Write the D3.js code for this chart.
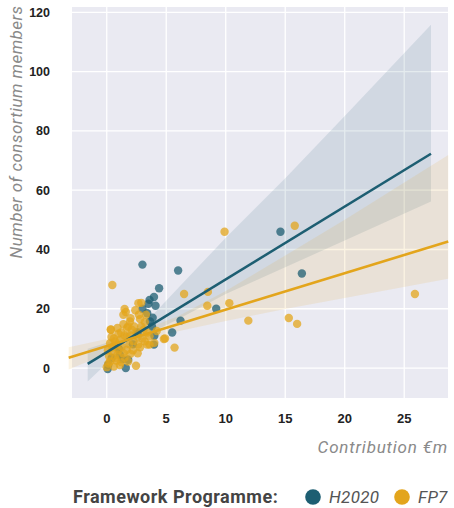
<html>
  <head>
    <meta charset="utf-8">
    <style>
      body { margin: 0; background: #fff; }
      .tick-x { font-family: "Liberation Sans", Arial, sans-serif; font-weight: bold; font-size: 13px; fill: #222; }
      .tick-y { font-family: "Liberation Sans", Arial, sans-serif; font-weight: bold; font-size: 12.5px; fill: #222; }
      .axis-title { font-family: Roboto, "Open Sans", sans-serif; font-style: italic; font-size: 17px; fill: #8a8a8a; letter-spacing: 0.8px; }
      .y-title { letter-spacing: 0.45px; }
      .legend-title { font-family: Roboto, sans-serif; font-weight: bold; font-size: 18px; fill: #444; letter-spacing: 0.5px; }
      .legend-item { font-family: Roboto, sans-serif; font-style: italic; font-size: 17px; fill: #555; letter-spacing: 0.3px; }
    </style>
    <script src="https://d3js.org/d3.v7.min.js"></script>
  </head>
  <body>
    <svg id="chart" width="454" height="508"></svg>
    <script>
      // tick labels
      var xTicks = [0, 5, 10, 15, 20, 25]
      var yTicks = [0, 20, 40, 60, 80, 100, 120]

      // H2020 projects: [contribution €m, consortium members]
      var h2020Points = [
        [14.6, 46], [16.4, 31.9], [6.0, 32.9], [3.0, 34.9], [4.4, 26.9], [3.97, 24],
        [4.1, 21], [3.5, 21.7], [3.0, 20], [3.86, 17], [3.64, 15.7], [6.2, 16],
        [5.5, 12], [4.0, 10.9], [3.97, 7.9], [9.2, 20], [1.6, 0], [0.08, -0.3],
        [1.3, 3], [1.1, 4.5], [0.42, 3.4], [0.13, 1.1], [1.8, 2.8], [3.4, 18.5],
        [3.8, 14], [3.6, 23], [2.2, 8], [1.0, 6.5], [2.6, 12]
      ]

      // FP7 projects
      var fp7Points = [
        [0.47, 28], [9.9, 46], [15.8, 48], [25.9, 25], [6.5, 25], [8.5, 25.7],
        [8.45, 21], [10.3, 21.9], [11.9, 16], [15.3, 16.9], [16.0, 14.9], [4.9, 10],
        [5.7, 6.9], [3.6, 7.9], [2.66, 21.9], [2.9, 22], [1.5, 19.9], [1.6, 18.9],
        [1.4, 18], [2.7, 18], [3.3, 18], [2.8, 16.5], [1.96, 15.7], [1.4, 14.8],
        [2.9, 14], [3.1, 12.9], [3.6, 10.7], [0.36, 12.9], [0.98, 11.6], [2.1, 12.9],
        [4.8, 9.8], [3.4, 7.9], [2.65, 7.9], [0.28, 8.4], [0.28, 2.2], [0, 0.3],
        [2.46, 0.8], [2.0, 4.8], [0.42, 5.6], [0.7, 3.4], [1.26, 7.3], [1.68, 6.2],
        [0.84, 7.9], [1.1, 9.5], [1.68, 10.7], [2.24, 9.0], [0.13, 1.5], [1.8, 2.2],
        [0.33, 13], [1.2, 12], [1.5, 11], [2.0, 11], [2.5, 12], [0.6, 10],
        [1.0, 6], [1.4, 5], [2.2, 6], [2.6, 5], [0.5, 7], [0.9, 4.5],
        [1.2, 2], [0.2, 4], [0.6, 0.5], [1.1, 1], [2.3, 14], [1.8, 14],
        [0.9, 13.5], [3.0, 10], [2.6, 10.5], [1.9, 8], [0.4, 10.5], [3.2, 9],
        [0.1, 6], [0.8, 2.5], [1.5, 3.5], [2.0, 16.8], [3.2, 15.5], [1.7, 13.5],
        [2.4, 19.5], [0.7, 9], [3.4, 12], [2.8, 7], [4.2, 12.5], [4.0, 8.5]
      ]

      // regression lines and confidence bands
      var h2020Line = [[-1.6, 1.4], [27.25, 72.3]]
      var h2020BandX = [-1.6, 0, 2, 4, 6, 10, 15, 20, 27.25]
      var h2020BandLo = [-4.5, 1.5, 7.5, 12.5, 16.5, 25, 34, 43, 56.2]
      var h2020BandHi = [6.5, 8.5, 12.5, 18.5, 27, 44, 64, 85, 115.8]

      var fp7Line = [[-3.2, 3.5], [28.7, 42.7]]
      var fp7BandX = [-3.2, 0, 3, 6, 10, 15, 20, 28.7]
      var fp7BandLo = [-0.5, 4.8, 9.3, 12.4, 15.9, 19.9, 23.6, 30.1]
      var fp7BandHi = [7.0, 9.8, 12.8, 17.5, 26, 38, 50, 71.9]

      var blue = "#1d5e72", yellow = "#e3a51c"

      var svg = d3.select("#chart")
      var m = {left: 72, right: 448, top: 7, bottom: 398}

      var x = d3.scaleLinear().domain([-2.92, 28.68]).range([m.left, m.right])
      var y = d3.scaleLinear().domain([-10.1, 121.8]).range([m.bottom, m.top])

      // plot background + grid
      svg.append("rect")
         .attr("x", m.left).attr("y", m.top)
         .attr("width", m.right - m.left).attr("height", m.bottom - m.top)
         .attr("fill", "#eaeaf2")

      svg.append("g").selectAll("line")
         .data(xTicks).join("line")
         .attr("x1", d => x(d)).attr("x2", d => x(d))
         .attr("y1", m.top).attr("y2", m.bottom)
         .attr("stroke", "#fff").attr("stroke-width", 1.3)

      svg.append("g").selectAll("line")
         .data(yTicks).join("line")
         .attr("x1", m.left).attr("x2", m.right)
         .attr("y1", d => y(d)).attr("y2", d => y(d))
         .attr("stroke", "#fff").attr("stroke-width", 1.3)

      // confidence bands
      function band(xs, lo, hi){
        return d3.area()
                 .x((d, i) => x(xs[i]))
                 .y0((d, i) => y(lo[i]))
                 .y1((d, i) => y(hi[i]))(xs)
      }
      svg.append("path").attr("d", band(h2020BandX, h2020BandLo, h2020BandHi))
         .attr("fill", blue).attr("fill-opacity", 0.12)
      svg.append("path").attr("d", band(fp7BandX, fp7BandLo, fp7BandHi))
         .attr("fill", yellow).attr("fill-opacity", 0.12)

      // points
      svg.append("g").selectAll("circle")
         .data(h2020Points).join("circle")
         .attr("cx", d => x(d[0])).attr("cy", d => y(d[1]))
         .attr("r", 4.2)
         .attr("fill", blue).attr("fill-opacity", 0.75)

      svg.append("g").selectAll("circle")
         .data(fp7Points).join("circle")
         .attr("cx", d => x(d[0])).attr("cy", d => y(d[1]))
         .attr("r", 4.2)
         .attr("fill", yellow).attr("fill-opacity", 0.75)

      // regression lines
      var line = d3.line().x(d => x(d[0])).y(d => y(d[1]))
      svg.append("path").attr("d", line(h2020Line))
         .attr("stroke", blue).attr("stroke-width", 2.6).attr("fill", "none")
      svg.append("path").attr("d", line(fp7Line))
         .attr("stroke", yellow).attr("stroke-width", 2.6).attr("fill", "none")

      // tick labels
      svg.append("g").selectAll("text")
         .data(yTicks).join("text")
         .attr("class", "tick-y")
         .attr("x", 50).attr("y", d => y(d) + 4.5)
         .attr("text-anchor", "end")
         .text(d => d)

      svg.append("g").selectAll("text")
         .data(xTicks).join("text")
         .attr("class", "tick-x")
         .attr("x", d => x(d)).attr("y", 423)
         .attr("text-anchor", "middle")
         .text(d => d)

      // axis titles
      svg.append("text")
         .attr("class", "axis-title y-title")
         .attr("transform", "translate(22,132) rotate(-90)")
         .attr("text-anchor", "middle")
         .text("Number of consortium members")

      svg.append("text")
         .attr("class", "axis-title")
         .attr("x", 448).attr("y", 453)
         .attr("text-anchor", "end")
         .text("Contribution €m")

      // legend
      svg.append("text")
         .attr("class", "legend-title")
         .attr("x", 73).attr("y", 503)
         .text("Framework Programme:")

      var legend = [["H2020", blue, 313], ["FP7", yellow, 402]]
      legend.forEach(function(l){
        svg.append("circle").attr("cx", l[2]).attr("cy", 497).attr("r", 7.8).attr("fill", l[1])
        svg.append("text").attr("class", "legend-item")
           .attr("x", l[2] + 16).attr("y", 503).text(l[0])
      })
    </script>
  </body>
</html>
